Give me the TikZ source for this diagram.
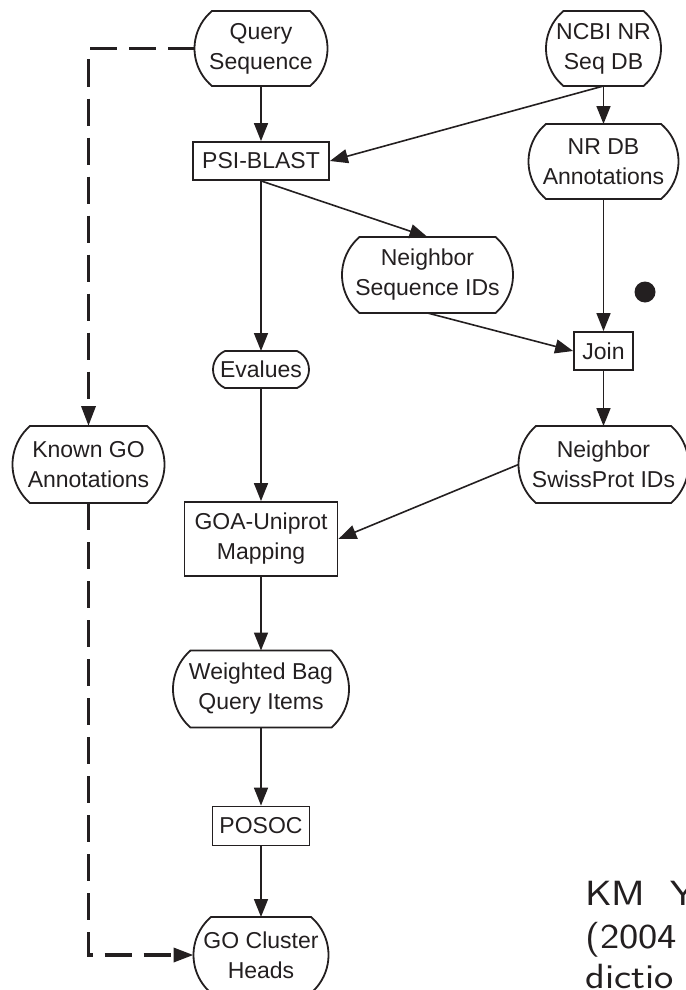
\documentclass[tikz,border=0pt]{standalone}
\usepackage{graphicx}
\usepackage{fontspec}
\setmainfont{Liberation Sans}
\usetikzlibrary{calc,arrows.meta}
\definecolor{ink}{RGB}{35,31,32}

% outline of a data store: flat top and bottom, shallow arcs at both ends
% #1 = node name, #2 = how far each end bulges out (pt)
\newcommand\capsule[2]{%
  \draw[capline] let \p1=(#1.north west), \p2=(#1.south east),
    \n1={(\y1-\y2)/2},
    \n2={(\n1*\n1+#2*#2)/(2*#2)},
    \n3={asin(\n1/\n2)} in
    (\x2-#2pt,\y1) arc[start angle=\n3, end angle=-\n3, radius=\n2*1pt]
    -- (\x1+#2pt,\y2) arc[start angle=180+\n3, end angle=180-\n3, radius=\n2*1pt]
    -- cycle;}

% wide sans used for the reference lines
\newcommand\widesans[1]{\scalebox{1.17}[1]{#1}}

\begin{document}
\begin{tikzpicture}[x=1pt,y=-1pt,
  every node/.style={text=ink},
  base/.style={line width=1.8pt, inner sep=0pt, align=center,
    font=\fontsize{23}{30}\selectfont},
  store/.style={base, rectangle, outer sep=0pt},
  proc/.style={base, rectangle, draw=ink},
  capline/.style={draw=ink, line width=1.8pt},
  flow/.style={draw=ink, line width=1.6pt, -{Triangle[length=18pt,width=14pt]}},
  link/.style={draw=ink, line width=3.5pt, dash pattern=on 27pt off 12pt,
    -{Triangle[length=20pt,width=14pt]}},
  cite/.style={inner sep=0pt, anchor=base west,
    font=\sffamily\fontsize{35}{41}\selectfont}
]
\useasboundingbox (0,0) rectangle (685,990);

% data stores (rounded) and processing steps (boxes)
\node[store, minimum width=133pt, minimum height=75pt] (Q)    at (261,48.5)  {Query\\Sequence};
\node[store, minimum width=115pt, minimum height=75pt] (NCBI) at (603.5,48.5) {NCBI NR\\Seq DB};
\node[proc,  minimum width=136pt, minimum height=38pt] (PSI)  at (261,161)   {PSI-BLAST};
\node[store, minimum width=150pt, minimum height=75pt] (NRDB) at (603.5,161.5) {NR DB\\Annotations};
\node[store, minimum width=171pt, minimum height=76pt] (NSeq) at (427.5,275) {Neighbor\\Sequence IDs};
\node[circle, fill=ink, minimum size=21pt, inner sep=0pt] (dot) at (645,292) {};
\node[proc,  minimum width=59pt,  minimum height=38pt] (Join) at (603.5,351) {Join};
\node[store, minimum width=96pt,  minimum height=37pt] (Eval) at (261,369.5) {Evalues};
\node[store, minimum width=152pt, minimum height=77pt] (KGO)  at (88.5,464.5) {Known GO\\Annotations};
\node[store, minimum width=170pt, minimum height=77pt] (SP)   at (603.5,464.5) {Neighbor\\SwissProt IDs};
\node[proc,  minimum width=153pt, minimum height=74pt] (GOA)  at (261,539)   {GOA-Uniprot\\Mapping};
\node[store, minimum width=176pt, minimum height=77pt] (WB)   at (261,689)   {Weighted Bag\\Query Items};
\node[proc,  minimum width=97pt,  minimum height=39pt] (POSOC) at (261,826)  {POSOC};
\node[store, minimum width=135pt, minimum height=76pt] (GOC)  at (261,955)   {GO Cluster\\Heads};

\capsule{Q}{17.5}
\capsule{NCBI}{17.5}
\capsule{NRDB}{17.5}
\capsule{NSeq}{17.5}
\capsule{Eval}{12}
\capsule{KGO}{17.5}
\capsule{SP}{17.5}
\capsule{WB}{17.5}
\capsule{GOC}{17.5}

% data flow
\draw[flow] (Q.south) -- (PSI.north);
\draw[flow] (NCBI.south) -- (PSI.east);
\draw[flow] (NCBI.south) -- (NRDB.north);
\draw[flow] (PSI.south) -- (Eval.north);
\draw[flow] (PSI.south) -- (NSeq.north);
\draw[flow] (NRDB.south) -- (Join.north);
\draw[flow] (NSeq.south) -- (Join.west);
\draw[flow] (Join.south) -- (SP.north);
\draw[flow] (Eval.south) -- (GOA.north);
\draw[flow] (SP.west) -- (GOA.east);
\draw[flow] (GOA.south) -- (WB.north);
\draw[flow] (WB.south) -- (POSOC.north);
\draw[flow] (POSOC.south) -- (GOC.north);

% evaluation path
\draw[link] (Q.west) -| (KGO.north);
\draw[link] (KGO.south) |- (GOC.west);

% reference text at the lower right
\node[cite] (citeA) at (585,905) {\widesans{KM\hspace{21pt}Y}};
\node[cite] (citeB) at (585,948) {\widesans{(2004}};
\node[cite] (citeC) at (585,988) {\widesans{dictio}};
\end{tikzpicture}
\end{document}
